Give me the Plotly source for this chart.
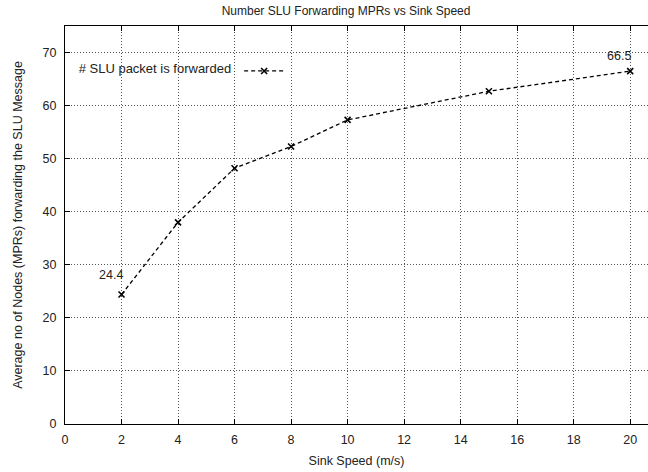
import plotly.graph_objects as go

# Sink speed (m/s) and average number of MPR nodes forwarding the SLU message
speeds = [2, 4, 6, 8, 10, 15, 20]
forwarders = [24.4, 38.0, 48.2, 52.3, 57.3, 62.7, 66.5]
x_ticks = [0, 2, 4, 6, 8, 10, 12, 14, 16, 18, 20]
y_ticks = [0, 10, 20, 30, 40, 50, 60, 70]
labelled = [0, 6]          # indices of points that carry a value label
label_lift = {0: 11, 6: 6}  # vertical offset (px) of each value label

FONT = "Liberation Sans, Arial, Helvetica, sans-serif"

fig = go.Figure()
fig.add_trace(go.Scatter(
    x=speeds, y=forwarders,
    mode="lines+markers",
    name=" ",
    line=dict(color="black", width=1.3, dash="4px,3px"),
    marker=dict(symbol="x-thin", size=6, color="black",
                line=dict(color="black", width=1.6)),
    showlegend=True,
))

for i in labelled:
    fig.add_annotation(
        x=speeds[i], y=forwarders[i], text=f"{forwarders[i]}",
        showarrow=False, xanchor="right", yanchor="bottom",
        xshift=3, yshift=label_lift[i],
        font=dict(family=FONT, size=12.5, color="#222"),
    )

grid = dict(showgrid=True, gridcolor="#555", gridwidth=1, griddash="1px,2px")

fig.update_layout(
    width=648, height=472,
    margin=dict(l=65, r=0, t=26, b=48),
    paper_bgcolor="white", plot_bgcolor="white",
    font=dict(family=FONT, size=12, color="#222"),
    title=dict(
        text="Number SLU Forwarding MPRs vs Sink Speed",
        x=0.534, xanchor="center", y=0.978, yanchor="middle",
        font=dict(family=FONT, size=12, color="#222"),
    ),
    legend=dict(
        title=dict(text="# SLU packet is forwarded", side="left",
                   font=dict(family=FONT, size=13, color="#222")),
        x=0.02, xanchor="left", y=0.887, yanchor="middle",
        bgcolor="rgba(0,0,0,0)", itemwidth=40,
        font=dict(family=FONT, size=12),
        tracegroupgap=0,
    ),
    xaxis=dict(
        range=[0, 20.63], tickvals=x_ticks, ticktext=[str(t) for t in x_ticks],
        showline=True, linecolor="black", linewidth=1.2, mirror="ticks",
        ticks="inside", ticklen=5, tickcolor="black", ticklabelstandoff=4,
        zeroline=False, **grid,
        title=dict(text="Sink Speed (m/s)", standoff=10,
                   font=dict(family=FONT, size=12.5)),
        tickfont=dict(family=FONT, size=12.5),
    ),
    yaxis=dict(
        range=[0, 75], tickvals=y_ticks,
        showline=True, linecolor="black", linewidth=1.2, mirror=False,
        ticks="inside", ticklen=5, tickcolor="black", ticklabelstandoff=5,
        zeroline=False, **grid,
        title=dict(text="Average no of Nodes (MPRs) forwarding the SLU Message",
                   standoff=17, font=dict(family=FONT, size=12.5)),
        tickfont=dict(family=FONT, size=12.5),
    ),
)

fig.write_html("out.html")
